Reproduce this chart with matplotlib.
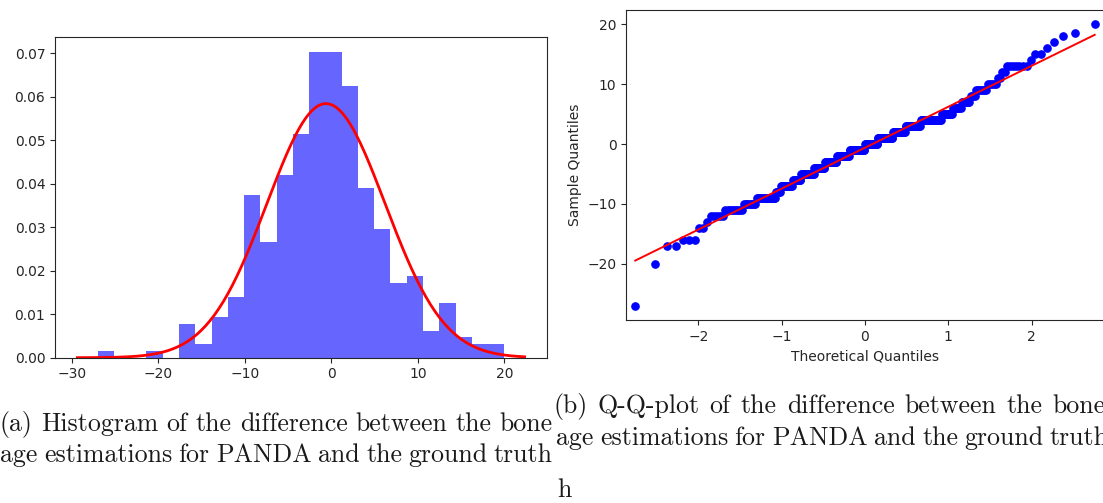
import numpy as np
import matplotlib
matplotlib.use("Agg")
import matplotlib.pyplot as plt
from statistics import NormalDist

# Difference between estimated and true bone age: distinct values and how often each occurs
diff_values = [-27, -20, -17, -16, -14, -13, -12, -11, -10, -9, -8, -7, -6, -5, -4, -3,
               -2, -1, 0, 1, 2, 3, 4, 5, 6, 7, 8, 9, 10, 11, 12, 13, 14, 15, 16, 17,
               18, 18.5, 20]
diff_counts = [1, 1, 2, 3, 2, 1, 5, 9, 8, 16, 5, 12, 10, 17, 15, 18,
               20, 25, 21, 24, 19, 21, 25, 11, 8, 7, 4, 7, 5, 2, 2, 7, 1, 2, 1, 1,
               1, 1, 1]
n_bins = 25

hist_yticks = [0.00, 0.01, 0.02, 0.03, 0.04, 0.05, 0.06, 0.07]
qq_xticks = [-2, -1, 0, 1, 2]
qq_yticks = [-20, -10, 0, 10, 20]

caption_a = ["(a) Histogram of the difference between the bone",
             "age estimations for PANDA and the ground truth"]
caption_b = ["(b) Q-Q-plot of the difference between the bone",
             "age estimations for PANDA and the ground truth",
             "h"]

sample = np.sort(np.repeat(np.array(diff_values, dtype=float), diff_counts))
mu, sigma = sample.mean(), sample.std()

plt.rcParams.update({
    "font.family": "DejaVu Sans",
    "font.size": 10,
    "xtick.major.size": 3.5,
    "ytick.major.size": 3.5,
    "xtick.major.width": 0.8,
    "ytick.major.width": 0.8,
    "xtick.major.pad": 3.5,
    "ytick.major.pad": 3.5,
    "axes.linewidth": 0.8,
    "axes.labelpad": 4,
    "text.color": "#262626",
    "xtick.color": "#262626",
    "ytick.color": "#262626",
    "axes.labelcolor": "#262626",
    "axes.edgecolor": "#262626",
})

W, H = 1103, 503
fig = plt.figure(figsize=(W / 100, H / 100), dpi=100)

# --- histogram with fitted normal density ---
ax1 = fig.add_axes([55 / W, 1 - 357.7 / H, 492 / W, 321 / H])
ax1.hist(sample, bins=n_bins, density=True, alpha=0.6, color="b")
xmin, xmax = ax1.get_xlim()
xs = np.linspace(xmin, xmax, 200)
pdf = np.exp(-0.5 * ((xs - mu) / sigma) ** 2) / (sigma * np.sqrt(2 * np.pi))
ax1.plot(xs, pdf, "r", linewidth=2)
ax1.set_yticks(hist_yticks)
ax1.set_ylim(0, 0.0738)

# --- normal Q-Q plot ---
n = len(sample)
nd = NormalDist()
theo = np.array([nd.inv_cdf(i / (n + 1)) for i in range(1, n + 1)])
ax2 = fig.add_axes([626.1 / W, 1 - 320 / H, 477.8 / W, 310 / H])
ax2.set_xmargin(0.02)
ax2.plot(theo, sample, "bo", markersize=5.3, markeredgewidth=0.9)
ax2.plot(theo, theo * sigma + mu, "r-", linewidth=1.4)
ax2.set_xticks(qq_xticks)
ax2.set_yticks(qq_yticks)
ax2.set_xlabel("Theoretical Quantiles")
ax2.set_ylabel("Sample Quantiles")

# --- captions (justified lines, serif) ---
cap_font = dict(family="cmr10", fontsize=18.6, va="baseline", ha="left", color="#1a1a1a")
renderer = fig.canvas.get_renderer()


def justified_line(x0_px, width_px, base_px, text):
    """Place the words of one caption line so that they fill width_px exactly."""
    words = text.split()
    items = [fig.text(0, 1 - base_px / H, w, **cap_font) for w in words]
    widths = [t.get_window_extent(renderer).width for t in items]
    gap = (width_px - sum(widths)) / (len(words) - 1)
    x = x0_px
    for t, w in zip(items, widths):
        t.set_x(x / W)
        x += w + gap


line_w = 553
justified_line(0, line_w, 431, caption_a[0])
justified_line(0, line_w, 462, caption_a[1])
justified_line(553, line_w, 413, caption_b[0])
justified_line(556, line_w, 445, caption_b[1])
fig.text(557 / W, 1 - 497 / H, caption_b[2], **cap_font)

fig.savefig("out.png", dpi=100)
